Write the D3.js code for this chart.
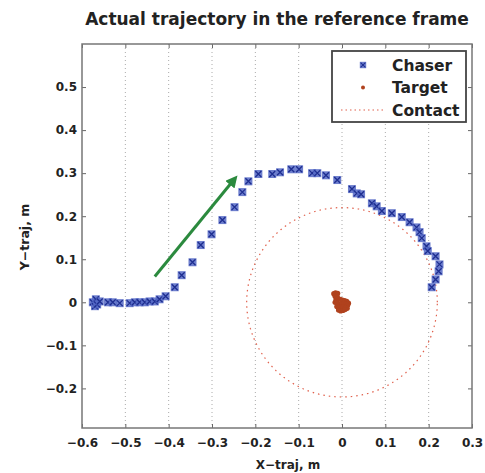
<!DOCTYPE html>
<html>
<head>
<meta charset="utf-8">
<script src="https://cdn.jsdelivr.net/npm/d3@7"></script>
<style>
  body { margin: 0; background: #fff; }
  svg text { font-family: "DejaVu Sans", sans-serif; font-weight: bold; fill: #222; }
</style>
</head>
<body>
<div id="chart"></div>
<script>
const chaserX = [-0.575, -0.568, -0.570, -0.565, -0.559, -0.540, -0.529, -0.513, -0.490, -0.478, -0.467, -0.455,
                 -0.444, -0.432, -0.421, -0.407, -0.386, -0.370, -0.345, -0.326, -0.301, -0.276, -0.248, -0.230,
                 -0.216, -0.193, -0.161, -0.143, -0.117, -0.099, -0.069, -0.057, -0.037, -0.011, 0.023, 0.034,
                 0.044, 0.069, 0.080, 0.092, 0.115, 0.138, 0.156, 0.172, 0.179, 0.184, 0.195, 0.198,
                 0.216, 0.225, 0.223, 0.216, 0.207];
const chaserY = [0.000, 0.007, -0.009, -0.005, 0.002, 0.000, 0.000, -0.002, -0.002, 0.000, 0.000, 0.000,
                 0.002, 0.002, 0.007, 0.014, 0.035, 0.063, 0.093, 0.133, 0.158, 0.191, 0.221, 0.256,
                 0.281, 0.298, 0.298, 0.302, 0.309, 0.309, 0.300, 0.300, 0.295, 0.284, 0.263, 0.253,
                 0.251, 0.230, 0.223, 0.212, 0.207, 0.198, 0.186, 0.174, 0.163, 0.149, 0.130, 0.119,
                 0.107, 0.088, 0.072, 0.053, 0.035];

const targetX = [-0.014, -0.009, -0.004, 0.001, 0.006, 0.011, 0.015, -0.016, -0.011, -0.006, -0.001, 0.004,
                 0.009, 0.013, -0.012, -0.007, -0.002, 0.003, 0.008, 0.012, -0.008, -0.003, 0.002, 0.007,
                 -0.019, -0.015, -0.010, -0.016, -0.011];
const targetY = [0.006, 0.008, 0.007, 0.005, 0.004, 0.002, -0.002, 0.000, -0.002, -0.004, -0.003, -0.002,
                 -0.004, -0.007, -0.010, -0.012, -0.011, -0.010, -0.012, -0.014, -0.018, -0.020, -0.019, -0.017,
                 0.020, 0.022, 0.021, 0.014, 0.013];

const contactRadius = 0.22;
const arrowFrom = [-0.432, 0.060];
const arrowTo = [-0.250, 0.284];

const xTicks = [-0.6, -0.5, -0.4, -0.3, -0.2, -0.1, 0, 0.1, 0.2, 0.3];
const yTicks = [-0.2, -0.1, 0, 0.1, 0.2, 0.3, 0.4, 0.5];
const legendLabels = ["Chaser", "Target", "Contact"];

const margin = { top: 44, right: 13, bottom: 45, left: 82 },
      width = 485 - margin.left - margin.right,
      height = 473 - margin.top - margin.bottom;

const chaserColor = "#3347b0", targetColor = "#b0421e", contactColor = "#e0604c";

const svg = d3.select("#chart").append("svg")
    .attr("width", 485)
    .attr("height", 473);

const g = svg.append("g")
    .attr("transform", `translate(${margin.left},${margin.top})`);

const x = d3.scaleLinear().domain([-0.6, 0.3]).range([0, width]);
const y = d3.scaleLinear().domain([-0.292, 0.6]).range([height, 0]);

// vertical dotted grid
g.selectAll(".grid")
    .data(xTicks.slice(1, -1))
    .enter().append("line")
    .attr("x1", d => x(d)).attr("x2", d => x(d))
    .attr("y1", 0).attr("y2", height)
    .attr("stroke", "#aaa")
    .attr("stroke-width", 1)
    .attr("stroke-dasharray", "1,3");

// axes
const fmt = d => d === 0 ? "0" : d3.format(".1f")(d).replace("-", "\u2212");
g.append("g")
    .attr("transform", `translate(0,${height})`)
    .call(d3.axisBottom(x).tickValues(xTicks).tickFormat(fmt).tickSizeInner(-4).tickSizeOuter(0).tickPadding(10))
    .call(a => a.select(".domain").remove());
g.append("g")
    .call(d3.axisTop(x).tickValues(xTicks).tickFormat("").tickSizeInner(-4).tickSizeOuter(0))
    .call(a => a.select(".domain").remove());
g.append("g")
    .call(d3.axisLeft(y).tickValues(yTicks).tickFormat(fmt).tickSizeInner(-4).tickSizeOuter(0).tickPadding(5))
    .call(a => a.select(".domain").remove());
g.append("g")
    .attr("transform", `translate(${width},0)`)
    .call(d3.axisRight(y).tickValues(yTicks).tickFormat("").tickSizeInner(-4).tickSizeOuter(0))
    .call(a => a.select(".domain").remove());
g.selectAll(".tick line").attr("stroke", "#666");
g.selectAll(".tick text").style("font-size", "12px").attr("fill", "#222");

g.append("rect")
    .attr("width", width).attr("height", height)
    .attr("fill", "none")
    .attr("stroke", "#777")
    .attr("stroke-width", 1.5);

// contact circle
const circlePts = d3.range(0, 361, 2).map(a => [contactRadius * Math.cos(a * Math.PI / 180), contactRadius * Math.sin(a * Math.PI / 180)]);
g.append("path")
    .datum(circlePts)
    .attr("fill", "none")
    .attr("stroke", contactColor)
    .attr("stroke-width", 1.2)
    .attr("stroke-dasharray", "1.5,4")
    .attr("d", d3.line().x(d => x(d[0])).y(d => y(d[1])));

// target
g.selectAll(".target")
    .data(targetX.map((d, i) => [d, targetY[i]]))
    .enter().append("circle")
    .attr("cx", d => x(d[0])).attr("cy", d => y(d[1]))
    .attr("r", 2.6)
    .attr("fill", targetColor);

// chaser markers
function chaserMark(sel) {
    sel.append("rect")
        .attr("x", -4).attr("y", -4).attr("width", 8).attr("height", 8)
        .attr("fill", "#5568c6").attr("opacity", 0.85);
    sel.append("path")
        .attr("d", "M-3,-3L3,3M-3,3L3,-3")
        .attr("stroke", "#1e2e90").attr("stroke-width", 1.3);
}
g.selectAll(".chaser")
    .data(chaserX.map((d, i) => [d, chaserY[i]]))
    .enter().append("g")
    .attr("transform", d => `translate(${x(d[0])},${y(d[1])})`)
    .call(chaserMark);

// arrow
svg.append("defs").append("marker")
    .attr("id", "arrowhead")
    .attr("viewBox", "0 0 10 10")
    .attr("refX", 5).attr("refY", 5)
    .attr("markerWidth", 4).attr("markerHeight", 4)
    .attr("orient", "auto")
    .append("path")
    .attr("d", "M0,0L10,5L0,10Z")
    .attr("fill", "#2b8a3e");
g.append("line")
    .attr("x1", x(arrowFrom[0])).attr("y1", y(arrowFrom[1]))
    .attr("x2", x(arrowTo[0])).attr("y2", y(arrowTo[1]))
    .attr("stroke", "#2b8a3e")
    .attr("stroke-width", 3)
    .attr("marker-end", "url(#arrowhead)");

// legend
const legend = svg.append("g").attr("transform", "translate(332,51)");
legend.append("rect")
    .attr("width", 134).attr("height", 71)
    .attr("fill", "#fff")
    .attr("stroke", "#444")
    .attr("stroke-width", 1.8);
legendLabels.forEach((name, i) => {
    const row = legend.append("g").attr("transform", `translate(0,${14 + i * 22.5})`);
    if (i === 0) {
        row.append("g").attr("transform", "translate(31,0) scale(0.8)").call(chaserMark);
    } else if (i === 1) {
        row.append("circle").attr("cx", 31).attr("cy", 0).attr("r", 2).attr("fill", targetColor);
    } else {
        row.append("line").attr("x1", 9).attr("x2", 54).attr("y1", 0).attr("y2", 0)
            .attr("stroke", contactColor).attr("stroke-width", 1.2).attr("stroke-dasharray", "1.5,3");
    }
    row.append("text")
        .attr("x", 60).attr("y", 5.5)
        .style("font-size", "15.5px")
        .text(name);
});

// titles
svg.append("text")
    .attr("x", 277).attr("y", 25)
    .attr("text-anchor", "middle")
    .style("font-size", "17px")
    .text("Actual trajectory in the reference frame");
svg.append("text")
    .attr("x", 288).attr("y", 469)
    .attr("text-anchor", "middle")
    .style("font-size", "12px")
    .text("X\u2212traj, m");
svg.append("text")
    .attr("transform", "translate(29,237) rotate(-90)")
    .attr("text-anchor", "middle")
    .style("font-size", "12.5px")
    .text("Y\u2212traj, m");
</script>
</body>
</html>
